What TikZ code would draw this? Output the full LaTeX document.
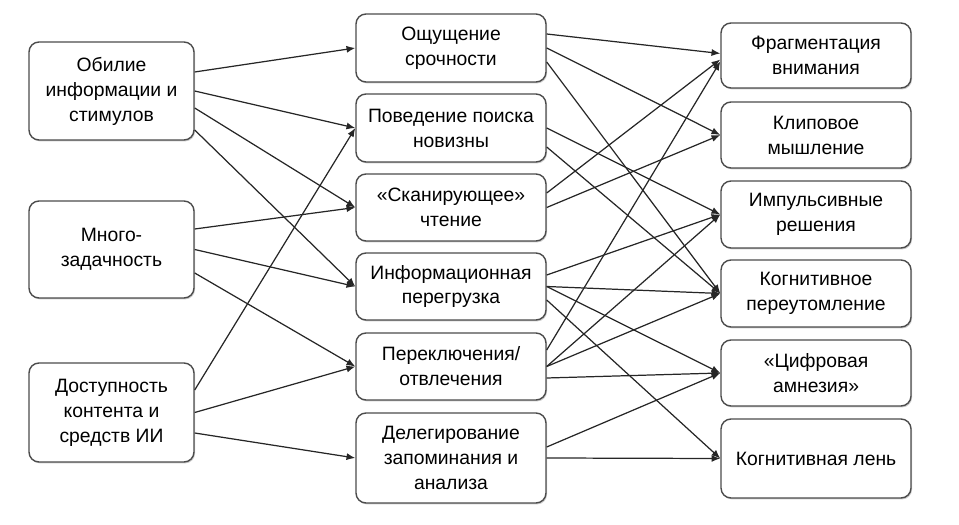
\documentclass[tikz,border=0pt]{standalone}
\usepackage{fontspec}
\setmainfont{Liberation Sans}
\usetikzlibrary{arrows.meta,shadows}
\tikzset{
  blok/.style={draw=black!70, line width=0.8pt, rounded corners=0.2cm, fill=white,
    align=center, inner sep=0pt, font=\fontsize{11}{14.2}\selectfont,
    drop shadow={shadow xshift=0.6pt, shadow yshift=-0.8pt, opacity=0.4}},
  svyaz/.style={-{Latex[length=5pt,width=4pt]}, line width=0.7pt, black!85}
}
\begin{document}
\begin{tikzpicture}
            \useasboundingbox (0,0) rectangle (19.18,10.48);
            % faktory
            \node [blok, minimum width=3.3cm, minimum height=1.96cm] (l1) at (2.23,8.66) {Обилие\\информации и\\стимулов};
            \node [blok, minimum width=3.3cm, minimum height=1.94cm] (l2) at (2.23,5.49) {Много-\\задачность};
            \node [blok, minimum width=3.3cm, minimum height=1.98cm] (l3) at (2.23,2.23) {Доступность\\контента и\\средств ИИ};
            % mekhanizmy
            \node [blok, minimum width=3.8cm, minimum height=1.36cm] (m1) at (9.02,9.52) {Ощущение\\срочности};
            \node [blok, minimum width=3.8cm, minimum height=1.36cm] (m2) at (9.02,7.92) {Поведение поиска\\новизны};
            \node [blok, minimum width=3.8cm, minimum height=1.34cm] (m3) at (9.02,6.33) {«Сканирующее»\\чтение};
            \node [blok, minimum width=3.8cm, minimum height=1.34cm] (m4) at (9.02,4.75) {Информационная\\перегрузка};
            \node [blok, minimum width=3.8cm, minimum height=1.34cm] (m5) at (9.02,3.15) {Переключения/\\отвлечения};
            \node [blok, minimum width=3.8cm, minimum height=1.80cm] (m6) at (9.02,1.32) {Делегирование\\запоминания и\\анализа};
            % posledstviya
            \node [blok, minimum width=3.8cm, minimum height=1.30cm] (r1) at (16.32,9.37) {Фрагментация\\внимания};
            \node [blok, minimum width=3.8cm, minimum height=1.32cm] (r2) at (16.32,7.78) {Клиповое\\мышление};
            \node [blok, minimum width=3.8cm, minimum height=1.34cm] (r3) at (16.32,6.19) {Импульсивные\\решения};
            \node [blok, minimum width=3.8cm, minimum height=1.34cm] (r4) at (16.32,4.61) {Когнитивное\\переутомление};
            \node [blok, minimum width=3.8cm, minimum height=1.32cm] (r5) at (16.32,3.02) {«Цифровая\\амнезия»};
            \node [blok, minimum width=3.8cm, minimum height=1.58cm] (r6) at (16.32,1.31) {Когнитивная лень};
            % levye svyazi
            \draw [svyaz] ([yshift=0.38cm]l1.east) -- (m1.west);
            \draw [svyaz] (l1.east) -- (m2.west);
            \draw [svyaz] ([yshift=-0.34cm]l1.east) -- (m3.west);
            \draw [svyaz] ([yshift=-0.78cm]l1.east) -- (m4.west);
            \draw [svyaz] ([yshift=0.41cm]l2.east) -- (m3.west);
            \draw [svyaz] (l2.east) -- (m4.west);
            \draw [svyaz] ([yshift=-0.47cm]l2.east) -- (m5.west);
            \draw [svyaz] ([yshift=0.45cm]l3.east) -- (m2.west);
            \draw [svyaz] (l3.east) -- (m5.west);
            \draw [svyaz] ([yshift=-0.41cm]l3.east) -- (m6.west);
            % pravye svyazi
            \draw [svyaz] ([yshift=0.28cm]m1.east) -- ([yshift=0.04cm]r1.west);
            \draw [svyaz] (m1.east) -- (r2.west);
            \draw [svyaz] ([yshift=-0.28cm]m1.east) -- (r4.west);
            \draw [svyaz] (m2.east) -- (r3.west);
            \draw [svyaz] ([yshift=-0.38cm]m2.east) -- (r4.west);
            \draw [svyaz] ([yshift=0.29cm]m3.east) -- ([yshift=-0.08cm]r1.west);
            \draw [svyaz] (m3.east) -- (r2.west);
            \draw [svyaz] ([yshift=0.23cm]m4.east) -- (r3.west);
            \draw [svyaz] (m4.east) -- (r4.west);
            \draw [svyaz] (m4.east) -- (r5.west);
            \draw [svyaz] ([yshift=-0.27cm]m4.east) -- (r6.west);
            \draw [svyaz] ([yshift=0.33cm]m5.east) -- ([yshift=-0.12cm]r1.west);
            \draw [svyaz] (m5.east) -- (r3.west);
            \draw [svyaz] (m5.east) -- (r4.west);
            \draw [svyaz] ([yshift=-0.23cm]m5.east) -- (r5.west);
            \draw [svyaz] ([yshift=0.22cm]m6.east) -- (r5.west);
            \draw [svyaz] (m6.east) -- (r6.west);
\end{tikzpicture}
\end{document}
